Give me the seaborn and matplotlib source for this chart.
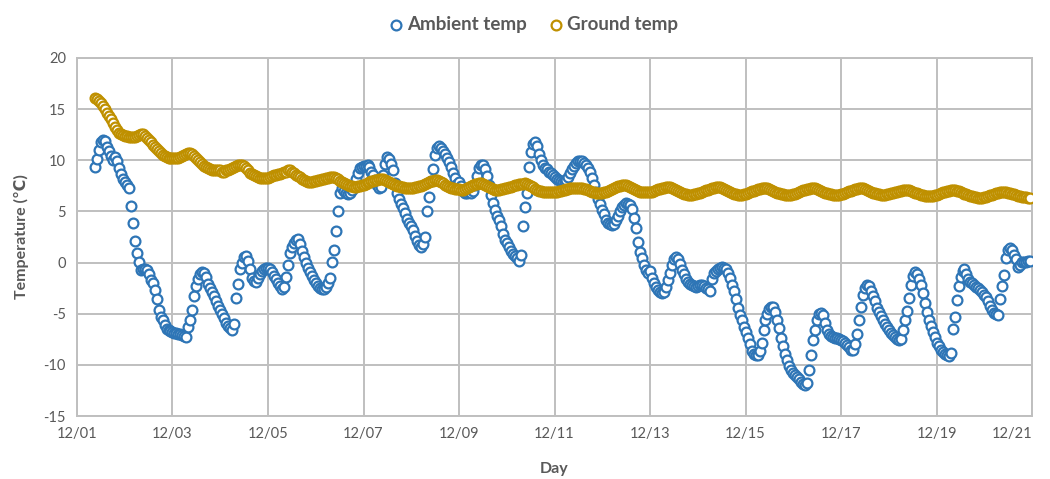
import pandas as pd
import matplotlib
matplotlib.use("Agg")
from matplotlib import pyplot as plt
import matplotlib.dates as mdates
import seaborn as sns

# hourly readings, first one at 12/01 09:00
start = "2023-12-01 09:00"

ambient = [
    9.3, 10.1, 11.0, 11.8, 12.0, 11.9, 11.3, 10.9, 10.4, 10.0, 10.3, 9.9, 9.2, 8.7, 8.2,
    7.9, 7.6, 7.3, 5.5, 3.9, 2.1, 0.9, 0.1, -0.7, -0.6, -0.6, -0.7, -1.1, -1.7, -2.0, -2.7, -3.6, -4.6, -5.3, -5.6, -6.1, -6.5, -6.6, -6.7,
    -6.8, -6.9, -6.9, -7.0, -7.0, -7.1, -7.2, -7.3, -6.3, -5.6, -4.6, -3.3, -2.3, -1.6, -1.1, -0.9, -1.0, -1.4, -2.1, -2.5, -2.9, -3.3, -3.8, -4.2,
    -4.6, -5.0, -5.4, -5.9, -6.2, -6.4, -6.6, -6.0, -3.5, -2.1, -0.6, 0.0, 0.5, 0.6, 0.2, -0.6, -1.5, -1.8, -1.9, -1.5, -1.1, -0.8, -0.6, -0.5,
    -0.5, -0.6, -0.9, -1.3, -1.6, -2.0, -2.3, -2.6, -2.4, -1.4, -0.2, 0.9, 1.5, 1.9, 2.2, 2.3, 1.8, 1.1, 0.5, 0.0, -0.5, -0.9, -1.3, -1.7,
    -2.0, -2.3, -2.5, -2.6, -2.6, -2.4, -2.0, -1.5, 0.1, 1.2, 3.1, 5.0, 6.8, 7.3, 7.0, 6.8, 6.7, 6.8, 7.1, 7.6, 8.2, 8.8, 9.2, 9.3,
    9.4, 9.4, 9.5, 9.3, 8.9, 8.6, 8.1, 7.6, 7.3, 7.4, 8.6, 9.6, 10.3, 10.1, 9.6, 9.0, 7.8, 6.8, 6.2, 5.7, 5.3, 4.8, 4.3, 3.9,
    3.6, 3.2, 2.6, 2.1, 1.7, 1.5, 1.8, 2.5, 5.0, 6.4, 8.0, 9.1, 10.5, 11.2, 11.4, 11.2, 10.9, 10.6, 10.2, 9.8, 9.3, 8.8, 8.3, 7.7,
    7.9, 7.5, 7.0, 6.8, 6.8, 6.9, 6.8, 7.0, 7.6, 8.5, 9.2, 9.5, 9.5, 9.1, 8.5, 7.6, 6.6, 5.8, 5.1, 4.6, 4.2, 3.6, 2.8, 2.2,
    1.9, 1.5, 1.1, 0.8, 0.6, 0.4, 0.2, 0.7, 3.6, 5.4, 6.8, 9.3, 10.8, 11.6, 11.8, 11.4, 10.6, 10.0, 9.5, 9.2, 9.1, 8.9, 8.8, 8.6,
    8.4, 8.2, 8.1, 8.0, 7.9, 7.9, 8.1, 8.4, 8.8, 9.1, 9.4, 9.7, 9.9, 9.9, 9.9, 9.7, 9.5, 9.2, 8.9, 8.3, 7.6, 6.9, 6.2, 5.7,
    5.1, 4.7, 4.2, 3.9, 3.8, 3.7, 3.8, 4.2, 4.6, 5.0, 5.4, 5.6, 5.8, 5.7, 5.6, 5.2, 4.4, 3.4, 2.0, 1.0, 0.4, -0.2, -0.7, -1.0,
    -0.8, -1.5, -2.0, -2.4, -2.7, -2.9, -3.0, -2.9, -2.4, -1.7, -1.0, -0.2, 0.3, 0.5, 0.3, -0.1, -0.7, -1.1, -1.6, -1.9, -2.1, -2.2, -2.3, -2.4,
    -2.3, -2.2, -2.2, -2.3, -2.5, -2.6, -2.8, -1.6, -1.0, -0.8, -0.6, -0.5, -0.4, -0.5, -0.6, -1.0, -1.5, -2.2, -2.8, -3.6, -4.4, -5.1, -5.6, -6.3,
    -6.8, -7.4, -8.0, -8.6, -8.9, -9.0, -9.0, -8.6, -7.9, -6.6, -5.6, -5.0, -4.5, -4.3, -4.3, -4.8, -5.6, -6.4, -7.4, -8.2, -8.9, -9.5, -10.1, -10.5,
    -10.8, -11.0, -11.2, -11.4, -11.7, -11.9, -12.0, -11.8, -10.5, -9.0, -7.6, -6.6, -5.6, -5.0, -4.9, -5.1, -5.9, -6.6, -7.0, -7.2, -7.3, -7.4, -7.4, -7.5,
    -7.6, -7.7, -7.9, -8.1, -8.3, -8.5, -8.5, -8.0, -7.0, -5.6, -4.3, -3.2, -2.5, -2.2, -2.3, -2.8, -3.3, -3.8, -4.4, -4.8, -5.2, -5.6, -6.0, -6.3,
    -6.6, -6.9, -7.1, -7.3, -7.5, -7.6, -7.5, -6.6, -5.6, -4.7, -3.5, -2.2, -1.3, -0.9, -1.1, -1.6, -2.2, -3.0, -4.0, -4.8, -5.6, -6.2, -6.8, -7.3,
    -7.9, -8.2, -8.5, -8.7, -8.9, -9.0, -9.1, -8.8, -6.5, -5.3, -3.7, -2.3, -1.4, -0.8, -0.6, -1.1, -1.6, -1.9, -2.0, -2.2, -2.4, -2.5, -2.7, -2.9,
    -3.2, -3.4, -3.8, -4.2, -4.6, -4.9, -5.0, -5.1, -3.6, -2.3, -1.2, 0.4, 1.2, 1.4, 1.2, 0.7, 0.3, -0.4, -0.2, 0.1, 0.1, 0.1, 0.2, 0.2,
]

ground = [
    16.1, 16.0, 15.8, 15.6, 15.3, 15.0, 14.6, 14.3, 14.0, 13.6, 13.3, 13.0, 12.7, 12.6, 12.5,
    12.4, 12.4, 12.3, 12.3, 12.3, 12.3, 12.4, 12.5, 12.6, 12.6, 12.4, 12.2, 12.0, 11.8, 11.5, 11.3, 11.1, 10.9, 10.7, 10.5, 10.4, 10.3, 10.2, 10.2,
    10.2, 10.2, 10.2, 10.2, 10.3, 10.4, 10.5, 10.6, 10.7, 10.7, 10.6, 10.4, 10.2, 10.0, 9.8, 9.6, 9.4, 9.3, 9.2, 9.1, 9.0, 9.0, 9.0, 9.0,
    9.0, 8.9, 8.9, 9.0, 9.0, 9.1, 9.2, 9.3, 9.4, 9.5, 9.5, 9.5, 9.4, 9.2, 9.0, 8.8, 8.7, 8.6, 8.5, 8.4, 8.3, 8.3, 8.3, 8.3,
    8.3, 8.4, 8.5, 8.6, 8.6, 8.7, 8.7, 8.8, 8.9, 8.9, 9.0, 9.0, 8.9, 8.8, 8.6, 8.5, 8.4, 8.2, 8.1, 8.0, 7.9, 7.9, 7.9, 8.0,
    8.0, 8.1, 8.1, 8.2, 8.2, 8.3, 8.3, 8.4, 8.4, 8.4, 8.3, 8.2, 8.0, 7.9, 7.8, 7.7, 7.6, 7.5, 7.5, 7.4, 7.4, 7.5, 7.5, 7.6,
    7.6, 7.7, 7.8, 7.9, 8.0, 8.0, 8.1, 8.1, 8.2, 8.2, 8.2, 8.1, 8.0, 7.9, 7.8, 7.7, 7.6, 7.5, 7.5, 7.4, 7.4, 7.3, 7.3, 7.3,
    7.3, 7.3, 7.4, 7.4, 7.5, 7.5, 7.6, 7.7, 7.8, 7.9, 8.0, 8.0, 8.1, 8.1, 8.0, 7.9, 7.8, 7.6, 7.5, 7.4, 7.3, 7.3, 7.2, 7.2,
    7.2, 7.1, 7.1, 7.2, 7.3, 7.4, 7.5, 7.6, 7.7, 7.7, 7.8, 7.8, 7.7, 7.6, 7.5, 7.4, 7.3, 7.2, 7.1, 7.1, 7.1, 7.2, 7.2, 7.3,
    7.3, 7.4, 7.4, 7.5, 7.6, 7.6, 7.7, 7.7, 7.7, 7.8, 7.7, 7.6, 7.5, 7.4, 7.2, 7.1, 7.0, 7.0, 6.9, 6.9, 6.9, 6.9, 6.9, 6.9,
    6.9, 6.9, 7.0, 7.0, 7.1, 7.1, 7.2, 7.2, 7.3, 7.3, 7.3, 7.3, 7.3, 7.3, 7.3, 7.2, 7.2, 7.1, 7.0, 6.9, 6.9, 6.8, 6.8, 6.8,
    6.8, 6.9, 6.9, 7.0, 7.1, 7.2, 7.3, 7.4, 7.5, 7.5, 7.6, 7.6, 7.6, 7.5, 7.4, 7.3, 7.2, 7.1, 7.0, 6.9, 6.9, 6.9, 6.9, 6.9,
    6.9, 6.9, 7.0, 7.1, 7.2, 7.2, 7.3, 7.3, 7.4, 7.4, 7.4, 7.3, 7.2, 7.1, 7.0, 6.9, 6.8, 6.7, 6.7, 6.6, 6.6, 6.6, 6.7, 6.7,
    6.8, 6.8, 6.9, 7.0, 7.1, 7.1, 7.2, 7.3, 7.3, 7.4, 7.4, 7.4, 7.3, 7.2, 7.1, 7.0, 6.9, 6.8, 6.7, 6.7, 6.6, 6.6, 6.6, 6.7,
    6.7, 6.8, 6.9, 7.0, 7.0, 7.1, 7.2, 7.2, 7.3, 7.3, 7.3, 7.3, 7.2, 7.1, 7.0, 6.9, 6.8, 6.8, 6.7, 6.7, 6.6, 6.6, 6.6, 6.6,
    6.7, 6.7, 6.8, 6.9, 7.0, 7.1, 7.1, 7.2, 7.2, 7.3, 7.3, 7.3, 7.2, 7.1, 7.0, 6.9, 6.8, 6.8, 6.7, 6.7, 6.6, 6.6, 6.6, 6.6,
    6.7, 6.7, 6.8, 6.9, 7.0, 7.0, 7.1, 7.2, 7.2, 7.3, 7.3, 7.3, 7.2, 7.1, 7.0, 6.9, 6.8, 6.8, 6.7, 6.7, 6.6, 6.6, 6.6, 6.7,
    6.7, 6.8, 6.8, 6.9, 6.9, 7.0, 7.0, 7.1, 7.1, 7.1, 7.1, 7.0, 6.9, 6.8, 6.8, 6.7, 6.6, 6.6, 6.5, 6.5, 6.5, 6.5, 6.5, 6.6,
    6.6, 6.7, 6.8, 6.9, 6.9, 7.0, 7.0, 7.1, 7.1, 7.1, 7.0, 7.0, 6.9, 6.8, 6.7, 6.7, 6.6, 6.5, 6.5, 6.4, 6.4, 6.3, 6.3, 6.3,
    6.4, 6.4, 6.5, 6.6, 6.6, 6.7, 6.8, 6.8, 6.9, 6.9, 6.9, 6.9, 6.8, 6.8, 6.7, 6.7, 6.6, 6.5, 6.5, 6.4, 6.4, 6.4, 6.3, 6.3,
]

series_names = ["Ambient temp", "Ground temp"]
colors = ["#2E75B6", "#BF9000"]

times = pd.date_range(start, periods=len(ambient), freq="h")
df = pd.DataFrame({"time": times, series_names[0]: ambient, series_names[1]: ground})

sns.set_theme(style="white")
plt.rcParams["font.family"] = ["Lato", "DejaVu Sans"]
plt.rcParams["axes.unicode_minus"] = False
text_gray = "#595959"
grid_gray = "#BFBFBF"

fig = plt.figure(figsize=(10.5, 4.79), dpi=100)
ax = fig.add_axes([0.0733, 0.1315, 0.9097, 0.7475])

for name, col in zip(series_names, colors):
    sns.scatterplot(data=df, x="time", y=name, ax=ax, s=50, facecolor="white",
                    edgecolor=col, linewidth=1.6, label=name, zorder=3)

ax.set_xlim(pd.Timestamp("2023-12-01"), pd.Timestamp("2023-12-21"))
ax.set_ylim(-15, 20)
ax.set_yticks(range(-15, 21, 5))
ax.xaxis.set_major_locator(mdates.DayLocator(bymonthday=range(1, 32, 2)))
ax.xaxis.set_major_formatter(mdates.DateFormatter("%m/%d"))

ax.grid(True, color=grid_gray, linewidth=1.4)
ax.set_axisbelow(True)
for sp in ax.spines.values():
    sp.set_color(grid_gray)
    sp.set_linewidth(1.4)
ax.tick_params(axis="both", length=0, labelsize=10.5, colors=text_gray, pad=8)

ax.set_xlabel("Day", fontsize=11.5, fontweight="bold", color=text_gray, labelpad=15)
ax.set_ylabel("Temperature (℃)", fontsize=11.5, fontweight="bold", color=text_gray, labelpad=10)

# keep the last date label inside the figure
fig.canvas.draw()
ax.get_xticklabels()[-1].set_horizontalalignment("right")

ax.get_legend().remove()
handles, labels = ax.get_legend_handles_labels()
leg = fig.legend(handles, labels, loc="center", bbox_to_anchor=(0.508, 0.948), ncol=2,
                 frameon=False, handlelength=0.7, handletextpad=0.25, columnspacing=1.2,
                 markerscale=1.0, prop={"size": 13.5, "weight": "bold"})
for t in leg.get_texts():
    t.set_color(text_gray)

fig.savefig("out.png", dpi=100)
